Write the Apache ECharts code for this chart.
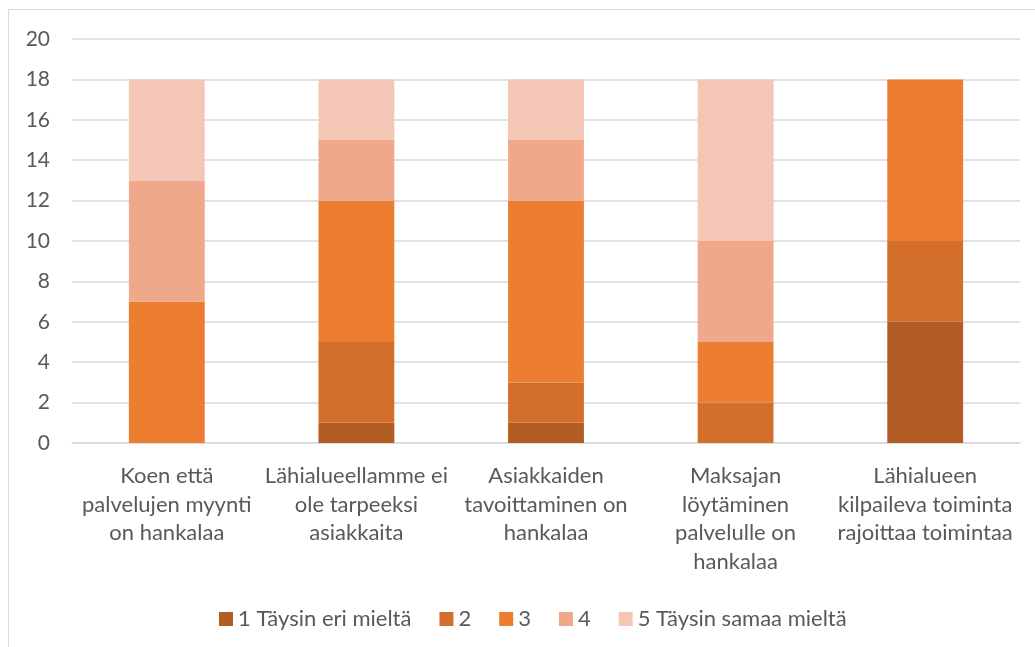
<!DOCTYPE html>
<html>
<head>
<meta charset="utf-8">
<script src="https://cdn.jsdelivr.net/npm/echarts@6/dist/echarts.min.js"></script>
<style>
  html, body { margin: 0; padding: 0; background: #fff; }
  #frame { position: absolute; left: 8px; top: 9px; width: 1040px; height: 660px; border: 1px solid #d9d9d9; box-sizing: border-box; }
  #chart { position: absolute; left: 0; top: 0; width: 1035px; height: 647px; }
</style>
</head>
<body>
<div id="frame"></div>
<div id="chart"></div>
<script>
// categories (line breaks as in the original)
var categories = [
  'Koen että\npalvelujen myynti\non hankalaa',
  'Lähialueellamme ei\nole tarpeeksi\nasiakkaita',
  'Asiakkaiden\ntavoittaminen on\nhankalaa',
  'Maksajan\nlöytäminen\npalvelulle on\nhankalaa',
  'Lähialueen\nkilpaileva toiminta\nrajoittaa toimintaa'
]
var seriesNames = ['1 Täysin eri mieltä', '2', '3', '4', '5 Täysin samaa mieltä']
var s1 = [0, 1, 1, 0, 6]
var s2 = [0, 4, 2, 2, 4]
var s3 = [7, 7, 9, 3, 8]
var s4 = [6, 3, 3, 5, 0]
var s5 = [5, 3, 3, 8, 0]
var yTicks = [0, 20, 2] // min, max, step

var colors = ['#B25D23', '#D36E2B', '#ED7D31', '#F0A88A', '#F4C6B6']
var txtCol = '#595959'
var fontFam = 'Lato, "Open Sans", sans-serif'

var allVals = [s1, s2, s3, s4, s5]
var series = []
for (var i = 0; i < allVals.length; i++) {
  series.push({
    name: seriesNames[i],
    type: 'bar',
    stack: 'total',
    barWidth: '40%',
    data: allVals[i],
    itemStyle: { color: colors[i] }
  })
}

var chart = echarts.init(document.getElementById('chart'))
chart.setOption({
  animation: false,
  color: colors,
  grid: { left: 72, right: 15, top: 39, bottom: 204 },
  xAxis: {
    type: 'category',
    data: categories,
    axisLine: { lineStyle: { color: '#d9d9d9', width: 1.5 } },
    axisTick: { show: false },
    axisLabel: {
      color: txtCol,
      fontSize: 22,
      lineHeight: 28.5,
      margin: 19,
      interval: 0,
      fontFamily: fontFam
    }
  },
  yAxis: {
    type: 'value',
    min: yTicks[0],
    max: yTicks[1],
    interval: yTicks[2],
    axisLine: { show: false },
    axisTick: { show: false },
    axisLabel: { color: txtCol, fontSize: 21, margin: 22, fontFamily: fontFam },
    splitLine: { lineStyle: { color: '#d9d9d9', width: 1.5 } }
  },
  legend: {
    top: 603,
    left: 214,
    itemWidth: 14,
    itemHeight: 14,
    itemGap: 28,
    icon: 'rect',
    textStyle: { color: txtCol, fontSize: 22, fontFamily: fontFam },
    data: seriesNames
  },
  series: series
})
</script>
</body>
</html>
